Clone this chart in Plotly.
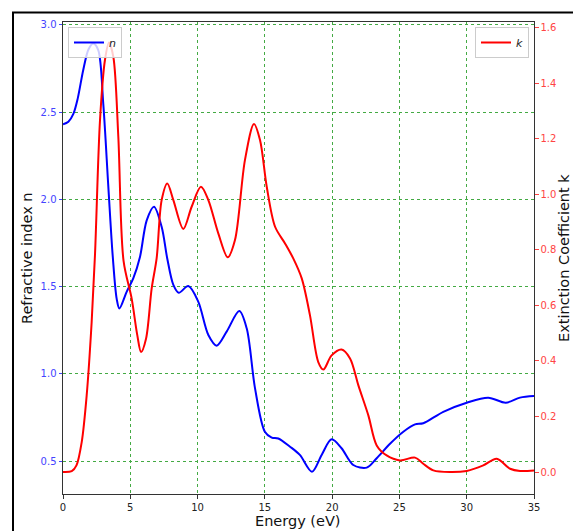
import plotly.graph_objects as go

# Refractive index n
n_energy = [0.0, 0.4, 0.77, 1.1, 1.5, 1.9, 2.25, 2.62, 2.99, 3.37, 3.70, 3.99, 4.19, 4.73, 5.22, 5.72,
            6.22, 6.76, 7.33, 7.75, 8.20, 8.60, 9.31, 10.05, 10.8, 11.42, 12.16, 13.1, 13.65,
            14.27, 15.0, 15.51, 16.0, 16.87, 17.6, 18.5, 19.22, 19.96, 20.7, 21.57, 22.57,
            23.31, 24.3, 25.29, 26.16, 26.77, 28.26, 30.0, 31.6, 32.9, 33.96, 35.0]
n_values = [2.43, 2.445, 2.49, 2.58, 2.74, 2.86, 2.893, 2.855, 2.55, 2.07, 1.67, 1.43, 1.375, 1.47,
            1.547, 1.67, 1.88, 1.958, 1.843, 1.66, 1.51, 1.465, 1.503, 1.414, 1.223, 1.162, 1.242,
            1.36, 1.261, 0.917, 0.669, 0.635, 0.63, 0.583, 0.536, 0.44, 0.536, 0.625, 0.574, 0.478,
            0.463, 0.517, 0.60, 0.669, 0.711, 0.717, 0.783, 0.835, 0.864, 0.835, 0.864, 0.873]

# Extinction coefficient k
k_energy = [0.0, 0.65, 1.0, 1.39, 1.76, 2.13, 2.38, 2.75, 3.12, 3.42, 3.74, 4.11, 4.5, 5.1, 5.52,
            5.8, 6.17, 6.59, 6.96, 7.33, 7.75, 8.2, 8.94, 9.56, 10.25, 10.8, 11.54, 12.24,
            12.78, 13.52, 14.19, 14.64, 15.14, 15.76, 16.5, 17.11, 17.74, 18.35, 18.97, 19.35,
            19.96, 20.7, 21.33, 21.95, 22.69, 23.31, 24.05, 25.04, 26.16, 26.77, 27.52, 28.76,
            30.0, 31.23, 32.23, 33.22, 33.96, 35.0]
k_values = [0.0, 0.003, 0.024, 0.108, 0.276, 0.54, 0.785, 1.267, 1.484, 1.546, 1.495, 1.207, 0.76,
            0.625, 0.493, 0.432, 0.48, 0.661, 0.77, 0.979, 1.039, 0.979, 0.875, 0.955, 1.027,
            0.979, 0.859, 0.773, 0.835, 1.123, 1.253, 1.195, 1.027, 0.883, 0.823, 0.769, 0.697,
            0.565, 0.396, 0.369, 0.42, 0.441, 0.409, 0.312, 0.204, 0.096, 0.06, 0.042, 0.052,
            0.03, 0.006, 0.0, 0.004, 0.024, 0.048, 0.012, 0.004, 0.006]

x_ticks = [0, 5, 10, 15, 20, 25, 30, 35]
n_ticks = [0.5, 1.0, 1.5, 2.0, 2.5, 3.0]
k_ticks = [0.0, 0.2, 0.4, 0.6, 0.8, 1.0, 1.2, 1.4, 1.6]

FONT = "DejaVu Sans"
fig = go.Figure()
fig.add_trace(go.Scatter(x=n_energy, y=n_values, mode="lines", name="<i>n</i>",
                         line=dict(color="#0000ff", width=2, shape="spline", smoothing=0.9),
                         legend="legend", yaxis="y"))
fig.add_trace(go.Scatter(x=k_energy, y=k_values, mode="lines", name="<i>k</i>",
                         line=dict(color="#ff0000", width=2, shape="spline", smoothing=0.9),
                         legend="legend2", yaxis="y2"))

L, R, T, B = 63, 534, 22, 494
W, H = 573, 531
pw, ph = R - L, B - T

def px(x):
    return (x - L) / pw

def py(y):
    return (B - y) / ph

title_font = dict(size=14.5, family=FONT, color="#111111")

fig.update_layout(
    width=W, height=H,
    margin=dict(l=L, r=W - R, t=T, b=H - B, autoexpand=False),
    paper_bgcolor="white", plot_bgcolor="white",
    font=dict(family=FONT, color="#222222"),
    xaxis=dict(range=[0, 35], tickvals=x_ticks, ticks="outside", ticklen=3.5, tickwidth=1,
               tickcolor="#333333", tickfont=dict(size=10, color="#222222", family=FONT),
               showline=True, linecolor="#333333", linewidth=1, mirror=True,
               showgrid=True, gridcolor="#44aa44", griddash="dot", gridwidth=0.6,
               zeroline=False, automargin=False),
    yaxis=dict(range=[0.312, 3.016], tickvals=n_ticks, ticktext=["0.5", "1.0", "1.5", "2.0", "2.5", "3.0"],
               ticks="outside", ticklen=3.5, tickcolor="#4444ff",
               tickfont=dict(size=10, color="#4444ff", family=FONT),
               showline=True, linecolor="#333333", linewidth=1,
               showgrid=True, gridcolor="#44aa44", griddash="dot", gridwidth=0.6,
               zeroline=False, automargin=False),
    yaxis2=dict(range=[-0.079, 1.62], tickvals=k_ticks,
                ticktext=["0.0", "0.2", "0.4", "0.6", "0.8", "1.0", "1.2", "1.4", "1.6"],
                overlaying="y", side="right", ticks="outside", ticklen=3.5, tickcolor="#ff4444",
                tickfont=dict(size=10, color="#ff4444", family=FONT),
                showline=True, linecolor="#333333", linewidth=1,
                showgrid=False, zeroline=False, automargin=False),
    legend=dict(x=px(68), y=py(27), xanchor="left", yanchor="top",
                bgcolor="rgba(255,255,255,0.8)", bordercolor="#cccccc", borderwidth=1,
                font=dict(size=11, family=FONT, color="#222222"), itemwidth=30,
                tracegroupgap=0),
    legend2=dict(x=px(529), y=py(27), xanchor="right", yanchor="top",
                 bgcolor="rgba(255,255,255,0.8)", bordercolor="#cccccc", borderwidth=1,
                 font=dict(size=11, family=FONT, color="#222222"), itemwidth=30),
    annotations=[
        dict(text="Energy (eV)", xref="paper", yref="paper", x=px(298), y=py(521),
             xanchor="center", yanchor="middle", showarrow=False, font=title_font),
        dict(text="Refractive index n", xref="paper", yref="paper", x=px(27), y=py(258),
             xanchor="center", yanchor="middle", showarrow=False, textangle=-90, font=title_font),
        dict(text="Extinction Coefficient k", xref="paper", yref="paper", x=px(564), y=py(258),
             xanchor="center", yanchor="middle", showarrow=False, textangle=-90, font=title_font),
    ],
    shapes=[
        dict(type="line", xref="paper", yref="paper", x0=px(13), x1=px(13), y0=py(12), y1=py(531),
             line=dict(color="black", width=2)),
        dict(type="line", xref="paper", yref="paper", x0=px(12), x1=px(573), y0=py(12.5), y1=py(12.5),
             line=dict(color="black", width=2)),
    ],
    showlegend=True,
)

fig.write_html("out.html", config=dict(displayModeBar=False),
               post_script="document.body.style.margin='0';document.body.style.overflow='hidden';")
